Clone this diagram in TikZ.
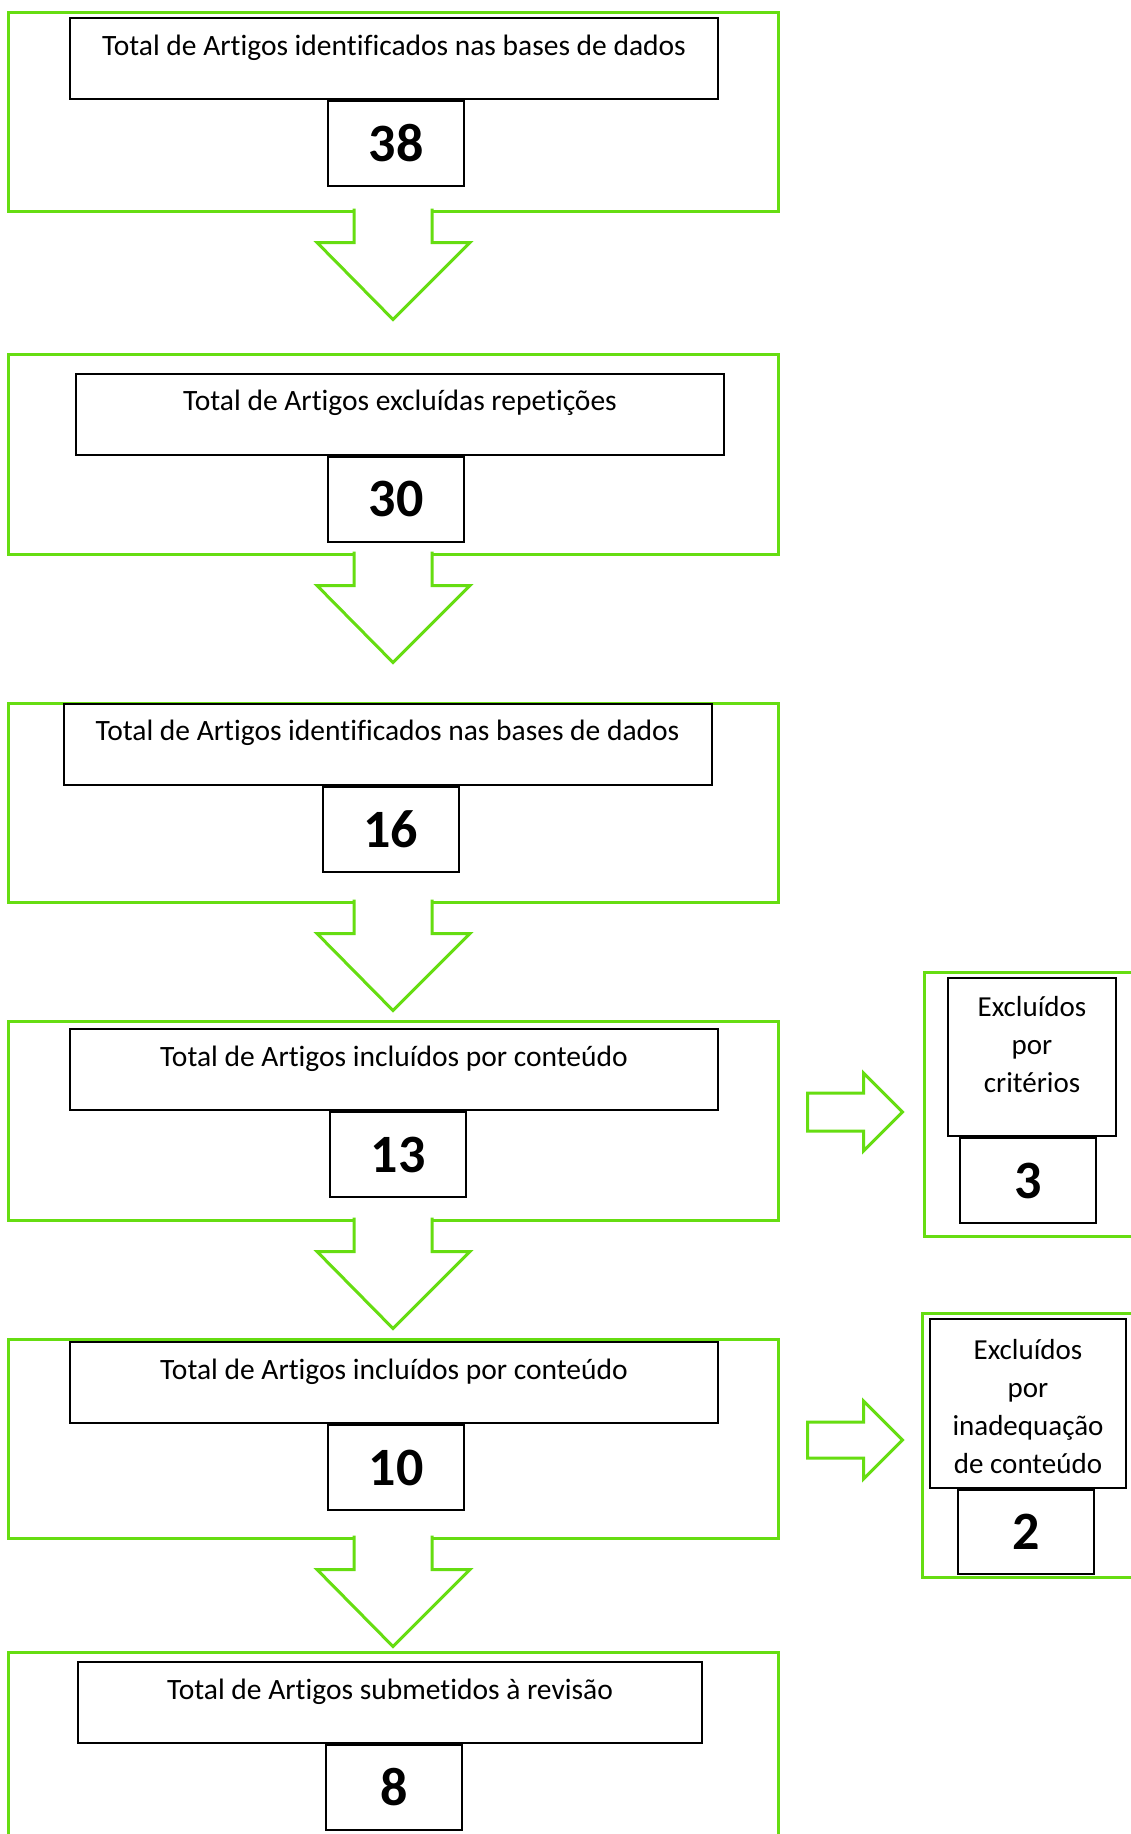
\documentclass[tikz,border=0pt]{standalone}
\usepackage{fontspec}
\setmainfont[Ligatures=NoCommon]{Carlito}
\usetikzlibrary{positioning}
\definecolor{frgreen}{RGB}{102,221,17}

\begin{document}
\begin{tikzpicture}
		[x=1pt, y=-1pt,
		 stage/.style = {draw=frgreen, line width=3pt, rectangle, inner sep=0pt, minimum width=770pt, minimum height=199pt},
		 txt/.style = {draw, line width=2pt, rectangle, inner sep=0pt, minimum width=648pt, text height=37pt, text depth=44pt, font=\fontsize{29.5}{35}\selectfont},
		 num/.style = {draw, line width=2pt, rectangle, inner sep=0pt, minimum width=136pt, minimum height=85pt, font=\fontsize{54}{60}\selectfont\bfseries},
		 sidetxt/.style = {draw, line width=2pt, rectangle, inner sep=0pt, font=\fontsize{29}{38}\selectfont},
		 blk/.style = {draw=frgreen, line width=3pt, fill=white}]
		\useasboundingbox (0,0) rectangle (1130,1834);

		\node[stage] (ident) at (393,111.5) {};
		\node[stage, minimum height=200pt] (norep) at (393,454) {};
		\node[stage] (ident2) at (393,802.5) {};
		\node[stage] (incl) at (393,1120.5) {};
		\node[stage] (incl2) at (393,1438.5) {};
		\node[stage, minimum height=218pt] (subm) at (393,1761) {};
		\node[stage, minimum width=221pt, minimum height=264pt] (exc1) at (1034.5,1104) {};
		\node[stage, minimum width=223pt, minimum height=264pt] (exc2) at (1033.5,1445) {};

		\node[txt] (identtxt) at (394,58.5) {Total de Artigos identificados nas bases de dados};
		\node[num, below=0pt of identtxt, xshift=2pt] (identnum) {38};
		\node[txt] (noreptxt) at (400,414) {Total de Artigos excluídas repetições};
		\node[num, below=0pt of noreptxt, xshift=-4pt] (norepnum) {30};
		\node[txt] (ident2txt) at (387.5,744) {Total de Artigos identificados nas bases de dados};
		\node[num, below=0pt of ident2txt, xshift=3pt] (ident2num) {16};
		\node[txt] (incltxt) at (394,1069.5) {Total de Artigos incluídos por conteúdo};
		\node[num, below=0pt of incltxt, xshift=4pt] (inclnum) {13};
		\node[txt] (incl2txt) at (394,1382.5) {Total de Artigos incluídos por conteúdo};
		\node[num, below=0pt of incl2txt, xshift=2pt] (incl2num) {10};
		\node[txt, minimum width=624pt] (submtxt) at (390,1702.5) {Total de Artigos submetidos à revisão};
		\node[num, below=0pt of submtxt, xshift=4pt] (submnum) {8};

		\node[sidetxt, minimum width=168pt, text height=38pt, text depth=120pt] (exc1txt) at (1032,1057)
			{\begin{tabular}[t]{@{}c@{}}Excluídos\\por\\critérios\end{tabular}};
		\node[num, below=0pt of exc1txt, xshift=-4pt] (exc1num) {3};
		\node[sidetxt, minimum width=196pt, text height=40pt, text depth=129pt] (exc2txt) at (1028,1403.5)
			{\begin{tabular}[t]{@{}c@{}}Excluídos\\por\\inadequação\\de conteúdo\end{tabular}};
		\node[num, below=0pt of exc2txt, xshift=-2pt, minimum height=84pt] (exc2num) {2};

		% block arrows between the stages
		\foreach \fr in {ident, norep, ident2, incl, incl2}
			\draw[blk] ([xshift=-39pt, yshift=4pt]\fr.south) -- ++(0,34) -- ++(-37,0) -- ++(76,77) -- ++(77,-77) -- ++(-38,0) -- ++(0,-34);
		\draw[blk] ([xshift=28pt, yshift=27.5pt]incl.east) -- ++(56,0) -- ++(0,-20) -- ++(39,39) -- ++(-39,39) -- ++(0,-20) -- ++(-56,0) -- cycle;
		\draw[blk] ([xshift=28pt, yshift=16.5pt]incl2.east) -- ++(56,0) -- ++(0,-21) -- ++(39,39) -- ++(-39,39) -- ++(0,-21) -- ++(-56,0) -- cycle;
	\end{tikzpicture}
\end{document}
